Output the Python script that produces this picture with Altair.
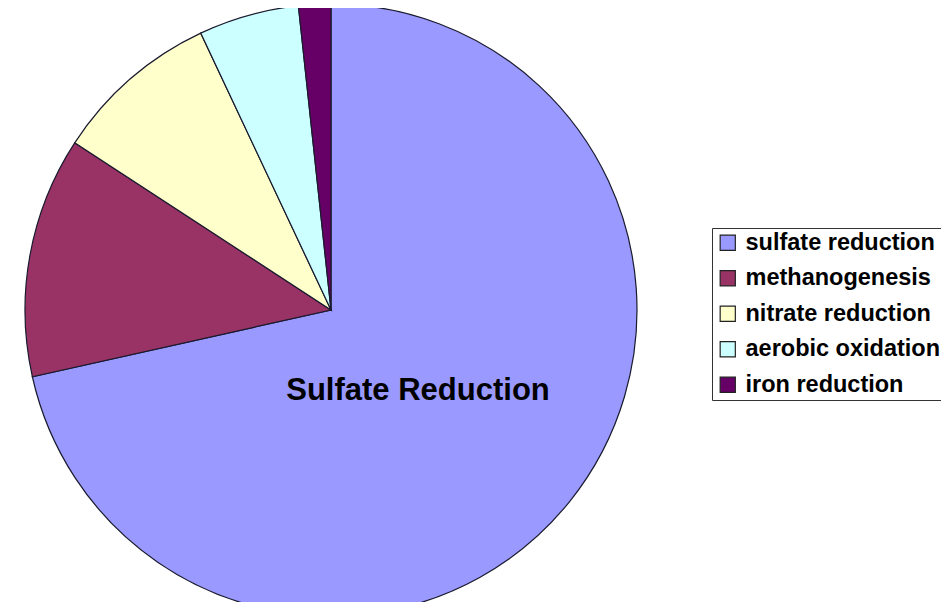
import altair as alt
import pandas as pd

categories = ["sulfate reduction", "methanogenesis", "nitrate reduction", "aerobic oxidation", "iron reduction"]
values = [71.5, 12.7, 8.8, 5.3, 1.7]
colors = ["#9999FF", "#993366", "#FFFFCC", "#CCFFFF", "#660066"]
slice_label = "Sulfate Reduction"

df = pd.DataFrame({"category": categories, "value": values, "order": list(range(len(categories)))})

cx, cy, r = 323, 302, 306

pie = alt.Chart(df).mark_arc(stroke="#1a1a2e", strokeWidth=1.2, outerRadius=r).encode(
    theta=alt.Theta("value:Q", stack=True),
    order=alt.Order("order:Q"),
    x=alt.value(cx),
    y=alt.value(cy),
    color=alt.Color(
        "category:N",
        scale=alt.Scale(domain=categories, range=colors),
        sort=categories,
        legend=alt.Legend(
            title=None,
            orient="none",
            legendX=704,
            legendY=220,
            symbolType="square",
            symbolSize=230,
            symbolStrokeColor="#222222",
            symbolStrokeWidth=1.2,
            labelFont="Liberation Sans",
            labelFontWeight="bold",
            labelFontSize=23.5,
            labelColor="#000000",
            labelLimit=400,
            rowPadding=10.5,
            padding=3,
            strokeColor="#333333",
            fillColor="#FFFFFF",
            symbolOffset=1,
            labelOffset=6,
        ),
    ),
)

label_df = pd.DataFrame({"text": [slice_label]})
label = alt.Chart(label_df).mark_text(
    font="Liberation Sans", fontSize=31, fontWeight="bold", color="#000000",
    align="center", baseline="alphabetic"
).encode(text="text:N", x=alt.value(410), y=alt.value(392))

chart = alt.layer(pie, label).properties(
    width=933, height=594, padding=0, autosize="none"
).configure_view(stroke=None)

chart.save("out.html", embed_options={"renderer": "svg", "actions": False})
